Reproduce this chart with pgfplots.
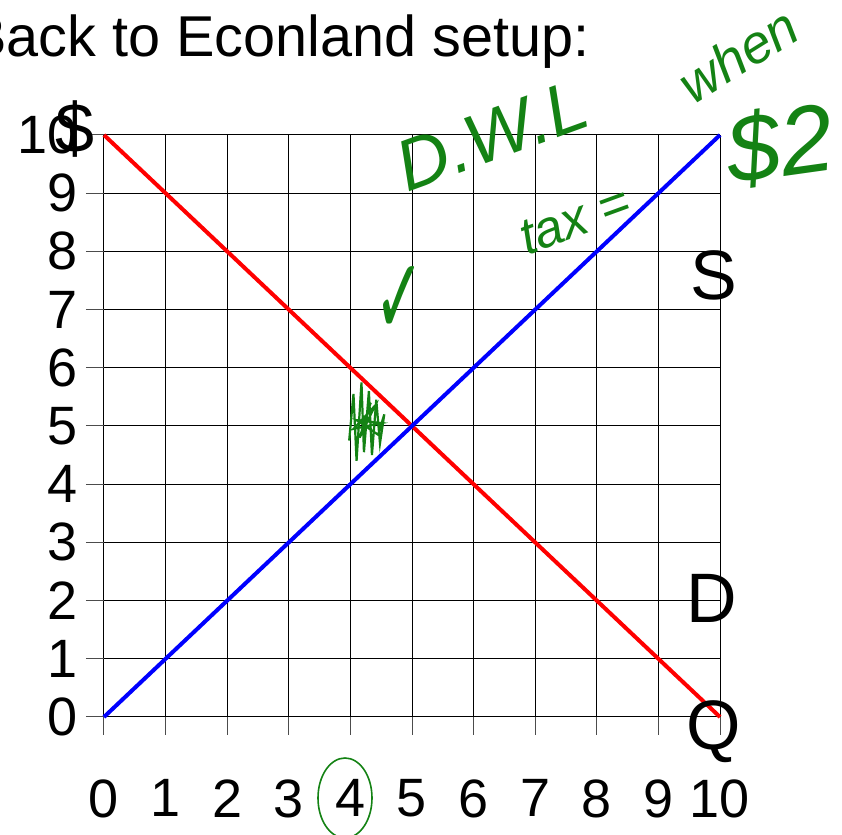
\documentclass[border=0pt]{standalone}
\usepackage{pgfplots}
\pgfplotsset{compat=1.18}
\usepackage{fontspec}
\setmainfont{Liberation Sans}
\newfontfamily\symfont{DejaVu Sans}
\definecolor{pen}{RGB}{20,130,20}

\begin{document}
\begin{tikzpicture}[x=0.5pt,y=0.5pt]
\useasboundingbox (0,0) rectangle (842,835);
% slide title, cut at the left edge
\node[anchor=base east, inner sep=0pt, font=\fontsize{28.8}{34}\selectfont] at (590,778) {Back to Econland setup:};
\begin{axis}[
    at={(52pt,59pt)}, anchor=south west,
    scale only axis,
    width=308pt, height=291pt,
    xmin=0, xmax=10, ymin=0, ymax=10,
    xtick={0,...,10}, ytick={0,...,10},
    axis line style={draw=none},
    grid=major,
    grid style={black, line width=0.5pt},
    tick align=outside,
    major tick length=9pt,
    tick style={black!70, line width=0.5pt},
    xtick pos=bottom, ytick pos=left,
    /pgf/number format/assume math mode=true,
    ticklabel style={font=\fontsize{27}{30}\selectfont, inner sep=0pt},
    xticklabel style={anchor=north, yshift=-22pt},
    yticklabel style={anchor=east, xshift=-4pt},
    clip=false,
]
% demand
\addplot[red, line width=2pt] coordinates {(0,10) (10,0)};
% supply
\addplot[blue, line width=2pt] coordinates {(0,0) (10,10)};
% hand scribble over the deadweight-loss triangle
\addplot[pen, line width=1.1pt] coordinates {
    (3.98,4.75) (4.05,5.55) (4.10,4.40) (4.18,5.75) (4.22,4.55) (4.30,5.60)
    (4.35,4.50) (4.42,5.45) (4.48,4.70) (4.55,5.20) (4.45,4.85) (4.10,5.10)
    (4.50,5.05) (4.05,4.95) (4.40,5.35) (4.15,4.80) (4.33,5.40)
};
\node[font=\fontsize{35}{38}\selectfont] at (axis cs:9.9,7.58) {S};
\node[font=\fontsize{35}{38}\selectfont] at (axis cs:9.87,2.04) {D};
\node[font=\fontsize{35}{38}\selectfont] at (axis cs:9.9,-0.25) {Q};
\node[font=\fontsize{35}{38}\selectfont] at (axis cs:-0.47,10.1) {\$};
\end{axis}
% handwritten notes
\node[pen, rotate=20, inner sep=0pt, font=\itshape\fontsize{36}{38}\selectfont] at (492,700) {D.W.L};
\node[pen, rotate=32, inner sep=0pt, font=\itshape\fontsize{27}{29}\selectfont] at (738,780) {when};
\node[pen, rotate=20, inner sep=0pt, font=\itshape\fontsize{26}{28}\selectfont] at (575,615) {tax =};
\node[pen, rotate=8, inner sep=0pt, font=\itshape\fontsize{48}{50}\selectfont] at (780,690) {\$2};
\node[pen, inner sep=0pt, yscale=1.8, font=\symfont\fontsize{30}{32}\selectfont] at (400,535) {✓};
\draw[pen, line width=0.8pt] (345,37) ellipse (27 and 40);
\end{tikzpicture}
\end{document}
